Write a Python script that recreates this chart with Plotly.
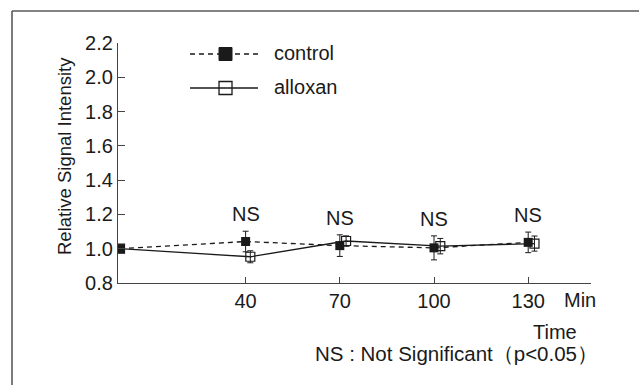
import plotly.graph_objects as go

# ---- data ----
time_control = [0, 40, 70, 100, 130]
control_mean = [1.00, 1.042, 1.018, 1.005, 1.037]
control_err = [0.0, 0.06, 0.063, 0.07, 0.06]

time_alloxan = [0, 41.5, 72, 102, 132]   # plotted slightly offset, as in the figure
alloxan_mean = [1.00, 0.953, 1.045, 1.015, 1.03]
alloxan_err = [0.0, 0.035, 0.03, 0.045, 0.044]

ns_times = [40, 70, 100, 130]
ns_labels = ["NS", "NS", "NS", "NS"]

x_ticks = [40, 70, 100, 130]
y_ticks = [0.8, 1.0, 1.2, 1.4, 1.6, 1.8, 2.0, 2.2]

FONT = "Liberation Sans, Arial, sans-serif"
INK = "#1a1a1a"
AX = "#444444"
FS = 20

W, H = 639, 385
L, R, T, B = 118, 48, 43, 102
PW, PH = W - L - R, H - T - B


def px(xp):
    return (xp - L) / PW


def py(yp):
    return (H - B - yp) / PH


fig = go.Figure()

fig.add_trace(go.Scatter(
    x=time_control, y=control_mean, mode="lines+markers", name="control",
    line=dict(color=INK, width=1.3, dash="5px,4px"),
    marker=dict(symbol="square", size=9, color=INK),
    error_y=dict(type="data", array=control_err, color=INK, thickness=1, width=3),
    showlegend=False,
))
fig.add_trace(go.Scatter(
    x=time_alloxan, y=alloxan_mean, mode="lines+markers", name="alloxan",
    line=dict(color=INK, width=1.3),
    marker=dict(symbol="square-open", size=9, color=INK, line=dict(width=1.2)),
    error_y=dict(type="data", array=alloxan_err, color=INK, thickness=1, width=3),
    showlegend=False,
))

annotations = []
# NS labels above each time point
for t, lab in zip(ns_times, ns_labels):
    tops = []
    for xs, ms, es in ((time_control, control_mean, control_err),
                       (time_alloxan, alloxan_mean, alloxan_err)):
        for x, m, e in zip(xs, ms, es):
            if abs(x - t) < 5:
                tops.append(m + e)
    annotations.append(dict(x=t, y=max(tops), xref="x", yref="y", text=lab,
                            showarrow=False, yanchor="middle", yshift=17,
                            font=dict(family=FONT, size=FS, color=INK)))

# axis extra labels
annotations += [
    dict(x=px(562), y=py(300), xref="paper", yref="paper", text="Min", showarrow=False,
         xanchor="left", yanchor="middle", font=dict(family=FONT, size=FS, color=INK)),
    dict(x=px(555), y=py(332), xref="paper", yref="paper", text="Time", showarrow=False,
         xanchor="center", yanchor="middle", font=dict(family=FONT, size=FS, color=INK)),
    dict(x=px(600), y=py(353), xref="paper", yref="paper",
         text="NS : Not Significant（p<0.05）", showarrow=False,
         xanchor="right", yanchor="middle", font=dict(family=FONT, size=20.5, color=INK)),
    dict(x=px(64), y=py(156), xref="paper", yref="paper", text="Relative Signal Intensity",
         showarrow=False, textangle=-90, xanchor="center", yanchor="middle",
         font=dict(family=FONT, size=18.5, color=INK)),
    # legend texts
    dict(x=px(272), y=py(53), xref="paper", yref="paper", text="control", showarrow=False,
         xanchor="left", yanchor="middle", font=dict(family=FONT, size=FS, color=INK)),
    dict(x=px(272), y=py(87), xref="paper", yref="paper", text="alloxan", showarrow=False,
         xanchor="left", yanchor="middle", font=dict(family=FONT, size=FS, color=INK)),
]

shapes = [
    # outer frame (left and top edges)
    dict(type="line", xref="paper", yref="paper", x0=px(12), x1=px(12), y0=py(11), y1=py(390),
         line=dict(color="#5a5a5a", width=1.6)),
    dict(type="line", xref="paper", yref="paper", x0=px(12), x1=px(645), y0=py(11), y1=py(11),
         line=dict(color="#5a5a5a", width=1.6)),
    # legend: control
    dict(type="line", xref="paper", yref="paper", x0=px(190), x1=px(258), y0=py(54), y1=py(54),
         line=dict(color=INK, width=1.3, dash="5px,4px")),
    dict(type="rect", xref="paper", yref="paper", x0=px(219), x1=px(232), y0=py(47.5), y1=py(60.5),
         line=dict(color=INK, width=1), fillcolor=INK),
    # legend: alloxan
    dict(type="line", xref="paper", yref="paper", x0=px(190), x1=px(258), y0=py(88), y1=py(88),
         line=dict(color=INK, width=1.3)),
    dict(type="rect", xref="paper", yref="paper", x0=px(219), x1=px(232), y0=py(81.5), y1=py(94.5),
         line=dict(color=INK, width=1.3), fillcolor="rgba(0,0,0,0)"),
]

fig.update_layout(
    width=W, height=H,
    margin=dict(l=L, r=R, t=T, b=B, pad=0),
    paper_bgcolor="white", plot_bgcolor="white",
    font=dict(family=FONT, size=FS, color=INK),
    annotations=annotations, shapes=shapes,
    showlegend=False,
)
fig.update_xaxes(range=[-0.64, 150], tickvals=x_ticks, ticktext=[str(v) for v in x_ticks],
                 ticks="inside", ticklen=6, tickcolor=AX, tickwidth=1,
                 showline=True, linecolor=AX, linewidth=1.2,
                 showgrid=False, zeroline=False,
                 tickfont=dict(family=FONT, size=FS, color=INK))
fig.update_yaxes(range=[0.8, 2.2], tickvals=y_ticks, ticktext=[f"{v:.1f}" for v in y_ticks],
                 ticks="inside", ticklen=7, tickcolor=AX, tickwidth=1,
                 showline=True, linecolor=AX, linewidth=1.2,
                 showgrid=False, zeroline=False,
                 tickfont=dict(family=FONT, size=FS, color=INK))

fig.write_html("out.html", config={"displayModeBar": False},
               post_script="document.body.style.margin='0px';document.body.style.overflow='hidden';")
